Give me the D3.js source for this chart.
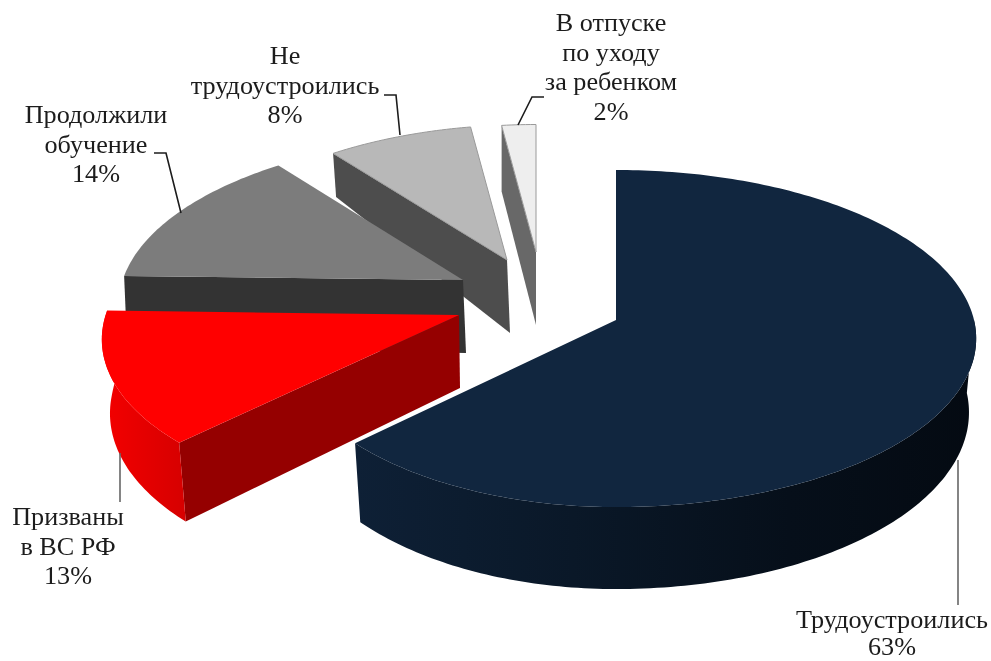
<!DOCTYPE html>
<html>
<head>
<meta charset="utf-8">
<script src="https://cdn.jsdelivr.net/npm/d3@7"></script>
<style>
  html, body { margin: 0; background: #fff; }
  svg { display: block; filter: blur(0.5px); }
  text { font-family: "Liberation Serif", serif; font-size: 26.2px; fill: #1c1c1c; text-anchor: middle; }
</style>
</head>
<body>
<svg id="chart" width="991" height="661"></svg>
<script>
// Data
const categories = ['Трудоустроились', 'Призваны в ВС РФ', 'Продолжили обучение', 'Не трудоустроились', 'В отпуске по уходу за ребенком'];
const values = [63, 13, 14, 8, 2];
const topColors = ['#11263f', '#ff0000', '#7c7c7c', '#b8b8b8', '#eeeeee'];
const cutColors = ['#0b1a2c', '#950000', '#333333', '#4d4d4d', '#686868'];
const edgeColors = ['none', 'none', 'none', '#9a9a9a', '#9a9a9a'];

// Label lines, one array per slice
const labelLines = [
  ['Трудоустроились', '63%'],
  ['Призваны', 'в ВС РФ', '13%'],
  ['Продолжили', 'обучение', '14%'],
  ['Не', 'трудоустроились', '8%'],
  ['В отпуске', 'по уходу', 'за ребенком', '2%']
];

// Layout of the exploded slices
const apexX = [616, 459, 463, 507, 536];
const apexY = [320, 315, 280, 260, 252];
const sliceScale = [1, 1, 0.955, 0.9, 0.85];
const sliceTilt = [0, -6, -6, -8, 0];
const leftRx = [331, 355, 358, 358, 358];
const bottomInset = [0.98, 0.98, 1, 1, 1];
const bottomShift = [0, 1, 3, 3, 0];
const backSlope = [44, 44, 44, 44, 9];
const labelX = [892, 68, 96, 285, 611];
const labelY = [628, 525, 123, 64, 31];
const labelGap = [27, 29.5, 29.5, 29.5, 29.5];
const leaderPaths = [
  [[958, 460], [958, 605]],
  [[120, 453], [120, 502]],
  [[154, 153], [166, 153], [181, 213]],
  [[384, 95], [396, 95], [400, 135]],
  [[518, 125], [532, 97], [544, 97]]
];
const leaderColors = ['#666666', '#666666', '#1c1c1c', '#1c1c1c', '#1c1c1c'];

const rx = 358, ry = 166.5, persp = 0.11;

const svg = d3.select('#chart');
const defs = svg.append('defs');

function hGradient(id, stops) {
  const g = defs.append('linearGradient').attr('id', id);
  stops.forEach(s => g.append('stop').attr('offset', s[0]).attr('stop-color', s[1]));
}
hGradient('rim0', [[0, '#0e2036'], [0.35, '#0a1828'], [0.7, '#060f1a'], [1, '#040a12']]);
hGradient('rim1', [[0, '#f40000'], [1, '#d60000']]);

const arcs = d3.pie().sort(null).value(d => d)(values);

// 3D projection of a point on the rim: z = 0 top face, z = 1 bottom face
function project(i, angle, r, z) {
  const u = Math.sin(angle) * r, v = -Math.cos(angle) * r;
  const w = 1 / (1 - persp * v);
  const s = sliceScale[i];
  const rxx = u < 0 ? leftRx[i] : rx;
  const t = v * w * s;
  const depth = t < 0 ? 73 + backSlope[i] * t : 73 + 8 * t;
  const inset = z ? bottomInset[i] : 1;
  return [
    apexX[i] + (z ? bottomShift[i] : 0) + rxx * u * w * s * inset,
    apexY[i] + ry * v * w * s + sliceTilt[i] * u + z * depth
  ];
}

const line = d3.line();
const step = Math.PI / 180;

function rimPoints(i, a0, a1, z) {
  return d3.range(a0, a1, step).concat([a1]).map(a => project(i, a, 1, z));
}

// back slices first
d3.range(values.length - 1, -1, -1).forEach(i => {
  const d = arcs[i];
  const g = svg.append('g').attr('class', 'slice');

  // flat cut face along the start edge
  if (i > 0) {
    g.append('path')
      .attr('d', line([
        project(i, d.startAngle, 0, 0),
        project(i, d.startAngle, 1, 0),
        project(i, d.startAngle, 1, 1),
        project(i, d.startAngle, 0, 1)
      ]) + 'Z')
      .attr('fill', cutColors[i]);
  }

  // outer rim, only the part turned to the viewer
  const a0 = Math.max(d.startAngle, Math.PI / 2);
  const a1 = Math.min(d.endAngle, 280 * step);
  if (a0 < a1 && i < 2) {
    g.append('path')
      .attr('d', line(rimPoints(i, a0, a1, 0).concat(rimPoints(i, a0, a1, 1).reverse())) + 'Z')
      .attr('fill', `url(#rim${i})`);
  }

  // top face
  g.append('path')
    .attr('d', line([project(i, d.startAngle, 0, 0)].concat(rimPoints(i, d.startAngle, d.endAngle, 0))) + 'Z')
    .attr('fill', topColors[i])
    .attr('stroke', edgeColors[i])
    .attr('stroke-width', 1);
});

// leader lines
svg.selectAll('path.leader')
    .data(leaderPaths)
  .enter().append('path')
    .attr('class', 'leader')
    .attr('d', d => line(d))
    .attr('fill', 'none')
    .attr('stroke', (d, i) => leaderColors[i])
    .attr('stroke-width', 1.6);

// labels
labelLines.forEach((lines, i) => {
  svg.selectAll(null)
      .data(lines)
    .enter().append('text')
      .attr('x', labelX[i])
      .attr('y', (d, k) => labelY[i] + k * labelGap[i])
      .text(d => d);
});
</script>
</body>
</html>
